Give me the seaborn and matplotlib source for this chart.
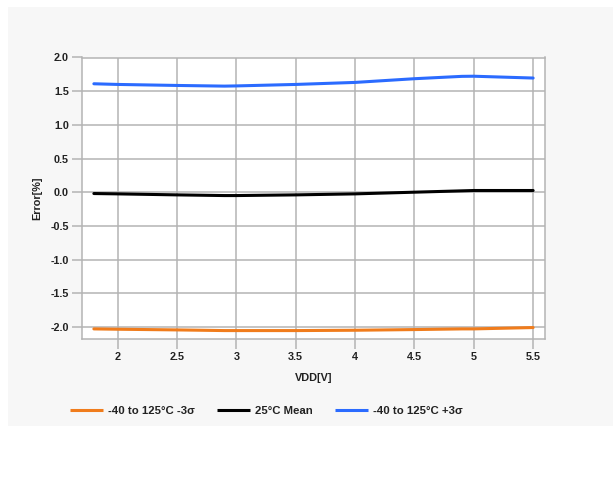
import numpy as np
import pandas as pd
import matplotlib
matplotlib.use("Agg")
import matplotlib.pyplot as plt
from matplotlib.patches import Rectangle
import seaborn as sns

# ---- data ----
vdd = [1.8, 2.0, 2.5, 2.9, 3.0, 3.5, 4.0, 4.5, 4.9, 5.0, 5.5]
minus3s = [-2.03, -2.035, -2.045, -2.055, -2.055, -2.055, -2.05, -2.04, -2.03, -2.03, -2.01]
mean25 = [-0.02, -0.025, -0.04, -0.05, -0.05, -0.04, -0.025, 0.0, 0.02, 0.025, 0.025]
plus3s = [1.61, 1.60, 1.585, 1.575, 1.578, 1.60, 1.63, 1.685, 1.72, 1.722, 1.695]
series_names = ["-40 to 125\u00b0C -3\u03c3", "25\u00b0C Mean", "-40 to 125\u00b0C +3\u03c3"]
colors = ["#f07c1c", "#000000", "#2b6bff"]
xticks = [2, 2.5, 3, 3.5, 4, 4.5, 5, 5.5]
xticklabels = ["2", "2.5", "3", "3.5", "4", "4.5", "5", "5.5"]
yticks = [2.0, 1.5, 1.0, 0.5, 0.0, -0.5, -1.0, -1.5, -2.0]

df = pd.DataFrame({
    "VDD": vdd * 3,
    "Error": minus3s + mean25 + plus3s,
    "series": [series_names[0]] * len(vdd) + [series_names[1]] * len(vdd) + [series_names[2]] * len(vdd),
})

sns.set_theme(style="white")
plt.rcParams["font.family"] = ["Liberation Sans", "DejaVu Sans"]
plt.rcParams["font.weight"] = "bold"
FS = 7.8
LFS = 8.2

fig = plt.figure(figsize=(6.13, 4.92), dpi=100, facecolor="white")
fig.patches.append(Rectangle((8 / 613, 1 - 426 / 492), 1 - 8 / 613, (426 - 7) / 492,
                             transform=fig.transFigure, facecolor="#f7f7f7",
                             edgecolor="none", zorder=-10))
ax = fig.add_axes([82 / 613, 1 - 339 / 492, (545 - 82) / 613, (339 - 57.5) / 492])
ax.set_facecolor("white")

sns.lineplot(data=df, x="VDD", y="Error", hue="series", hue_order=series_names,
             palette=colors, linewidth=2.2, ax=ax, legend=True, zorder=3)

ax.set_xlim(1.70, 5.60)
ax.set_ylim(-2.18, 2.0)
ax.set_xticks(xticks)
ax.set_xticklabels(xticklabels)
ax.set_yticks(yticks)
ax.set_yticklabels([f"{v:.1f}" for v in yticks])
ax.grid(True, color="#b4b4b4", linewidth=1.1)
ax.set_axisbelow(True)
for s in ax.spines.values():
    s.set_color("#b4b4b4")
    s.set_linewidth(1.1)
ax.tick_params(axis="both", which="major", length=7.5, width=1.1, color="#b4b4b4",
               labelsize=FS, pad=2.0, labelcolor="#222222", direction="out",
               bottom=True, left=True)
for lab in ax.get_xticklabels() + ax.get_yticklabels():
    lab.set_fontweight("bold")

ax.set_xlabel("VDD[V]", fontsize=FS, fontweight="bold", color="#222222", labelpad=8)
ax.set_ylabel("Error[%]", fontsize=FS, fontweight="bold", color="#222222", labelpad=6)

handles, labels = ax.get_legend_handles_labels()
for h in handles:
    h.set_solid_capstyle("butt")
ax.legend(handles=handles, labels=labels, loc="center left",
          bbox_to_anchor=(70 / 613, 1 - 411 / 492), bbox_transform=fig.transFigure,
          ncol=3, frameon=False, fontsize=LFS, handlelength=2.9, handletextpad=0.4,
          columnspacing=2.0, borderaxespad=0, borderpad=0)
for t in ax.get_legend().get_texts():
    t.set_fontweight("bold")
    t.set_color("#222222")

fig.savefig("out.png", dpi=100, facecolor="white")
